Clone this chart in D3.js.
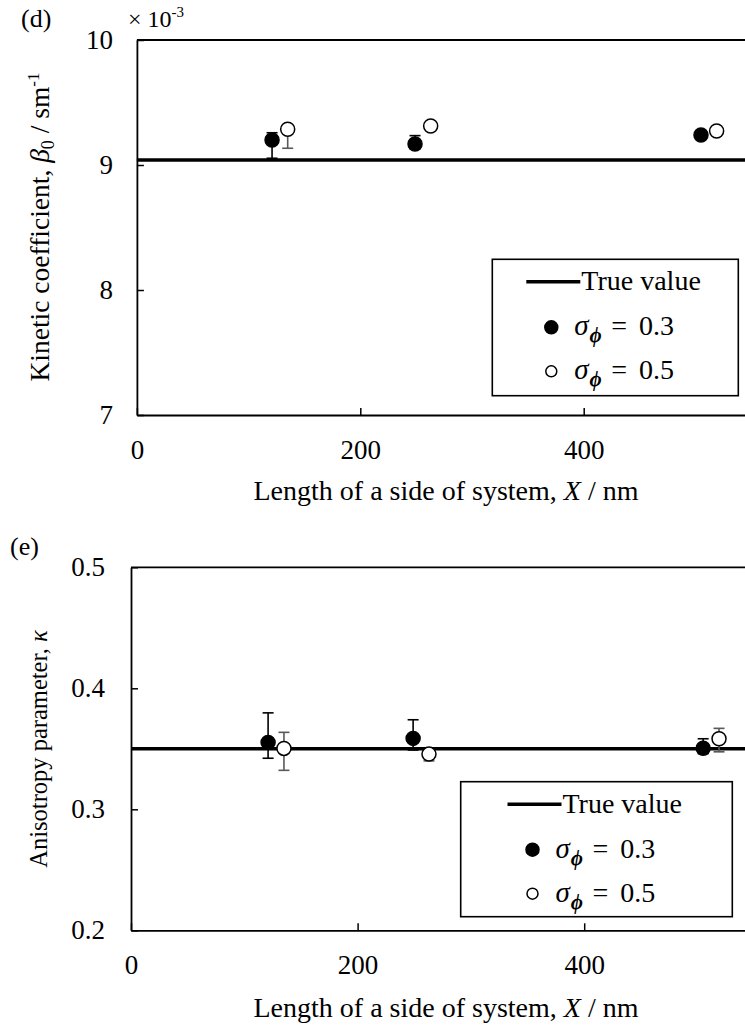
<!DOCTYPE html>
<html>
<head>
<meta charset="utf-8">
<script src="https://cdn.jsdelivr.net/npm/d3@7"></script>
<style>
  html, body { margin: 0; padding: 0; background: #fff; }
  svg { display: block; overflow: hidden; }
  svg text { font-family: "Liberation Serif", Tinos, "Times New Roman", "Noto Serif", serif !important; fill: #000; }
</style>
</head>
<body>
<svg id="chart" width="745" height="1029"></svg>
<script>
// System sizes (nm); the two smoothing widths are plotted slightly apart
const sideFilled = [121, 249, 505];
const sideOpen = [135, 263, 519];
const xTicks = [0, 200, 400];

// (d) kinetic coefficient beta0, in units of 1e-3 s/m
const betaTrue = 9.04;
const betaFilled = [9.20, 9.168, 9.24];
const betaFilledLow = [9.054, 9.13, 9.22];
const betaFilledHigh = [9.258, 9.235, 9.262];
const betaOpen = [9.286, 9.312, 9.272];
const betaOpenLow = [9.134, 9.28, 9.25];
const betaOpenHigh = [9.32, 9.34, 9.29];
const betaTicks = [7, 8, 9, 10];

// (e) anisotropy parameter kappa
const kappaTrue = 0.35;
const kappaFilled = [0.3553, 0.3586, 0.3504];
const kappaFilledLow = [0.3422, 0.349, 0.346];
const kappaFilledHigh = [0.3797, 0.374, 0.3583];
const kappaOpen = [0.3503, 0.3456, 0.3583];
const kappaOpenLow = [0.3322, 0.340, 0.3475];
const kappaOpenHigh = [0.3636, 0.349, 0.3669];
const kappaTicks = [0.2, 0.3, 0.4, 0.5];

const legendLabels = ["True value", "0.3", "0.5"];

const SERIF = '"Liberation Serif", Tinos, "Times New Roman", "Noto Serif", serif';
const svg = d3.select("#chart").attr("font-family", SERIF);
const FONT = 27;

function panel(o) {
  const g = svg.append("g");
  const x = d3.scaleLinear().domain([0, 600]).range([o.left, o.left + o.pxPer200 * 3]);
  const y = d3.scaleLinear().domain(o.yDomain).range([o.bottom, o.top]);

  // frame top edge
  g.append("line")
    .attr("x1", o.left).attr("x2", 800)
    .attr("y1", y(o.yDomain[1])).attr("y2", y(o.yDomain[1]))
    .attr("stroke", "#000").attr("stroke-width", 1.8);

  const xAxis = g.append("g")
    .attr("transform", `translate(0,${o.bottom})`)
    .call(d3.axisBottom(x).tickValues(xTicks).tickSizeInner(-7).tickSizeOuter(0).tickPadding(25).tickFormat(d3.format("d")));
  const yAxis = g.append("g")
    .attr("transform", `translate(${o.left},0)`)
    .call(d3.axisLeft(y).tickValues(o.yTicks).tickSizeInner(-7).tickSizeOuter(0).tickPadding(o.yPad).tickFormat(o.yFormat));
  [xAxis, yAxis].forEach(a => {
    a.attr("font-family", SERIF).attr("font-size", FONT);
    a.select(".domain").attr("stroke", "#000").attr("stroke-width", 1.8);
    a.selectAll(".tick line").attr("stroke", "#000").attr("stroke-width", 1.5);
    a.selectAll(".tick text").attr("fill", "#000");
  });

  // true value line
  g.append("line")
    .attr("x1", o.left).attr("x2", 800)
    .attr("y1", y(o.trueVal)).attr("y2", y(o.trueVal))
    .attr("stroke", "#000").attr("stroke-width", 3.6);

  const series = [
    { xs: sideFilled, v: o.filled, lo: o.filledLow, hi: o.filledHigh, fill: "#000", bar: "#000" },
    { xs: sideOpen, v: o.open, lo: o.openLow, hi: o.openHigh, fill: "#fff", bar: "#595959" }
  ];
  series.forEach(s => {
    const eg = g.append("g").attr("stroke", s.bar).attr("stroke-width", 1.6);
    s.v.forEach((v, i) => {
      const cx = x(s.xs[i]);
      eg.append("line").attr("x1", cx).attr("x2", cx).attr("y1", y(s.lo[i])).attr("y2", y(s.hi[i]));
      [s.lo[i], s.hi[i]].forEach(e => {
        eg.append("line").attr("x1", cx - 5.5).attr("x2", cx + 5.5).attr("y1", y(e)).attr("y2", y(e));
      });
    });
  });
  series.forEach(s => {
    g.append("g").selectAll("circle").data(s.v).join("circle")
      .attr("cx", (d, i) => x(s.xs[i])).attr("cy", d => y(d))
      .attr("r", 7).attr("fill", s.fill).attr("stroke", "#000").attr("stroke-width", 1.5);
  });

  // legend
  const L = o.legend;
  g.append("rect").attr("x", L.x).attr("y", L.y).attr("width", L.w).attr("height", L.h)
    .attr("fill", "#fff").attr("stroke", "#000").attr("stroke-width", 1.6);
  const cx0 = L.x + L.w / 2;
  const lx = cx0 - 89;
  g.append("line").attr("x1", lx).attr("x2", lx + 54)
    .attr("y1", L.y + 22.5).attr("y2", L.y + 22.5).attr("stroke", "#000").attr("stroke-width", 3.6);
  g.append("text").attr("x", lx + 55).attr("y", L.y + 31).attr("font-size", 28).text(legendLabels[0]);

  [[legendLabels[1], "#000", 6.5, 68], [legendLabels[2], "#fff", 5.5, 112]].forEach(([lab, fill, r, dy]) => {
    const yy = L.y + dy;
    g.append("circle").attr("cx", lx + 25).attr("cy", yy).attr("r", r)
      .attr("fill", fill).attr("stroke", "#000").attr("stroke-width", 1.5);
    const t = g.append("text").attr("x", lx + 48).attr("y", yy + 8);
    t.append("tspan").attr("font-size", 29).attr("font-style", "italic").text("σ");
    t.append("tspan").attr("font-size", 21).attr("font-style", "italic").attr("font-weight", "bold")
      .attr("dy", 7).attr("dx", 1).text("ϕ");
    t.append("tspan").attr("font-size", 28).attr("x", lx + 85).attr("dy", -7).text("=");
    t.append("tspan").attr("font-size", 28).attr("dx", 12).text(lab);
  });
  return { x, y };
}

// (d) panel
panel({
  left: 136.9, top: 40, bottom: 415, pxPer200: 223.4,
  yDomain: [7, 10], yTicks: betaTicks, yPad: 24, yFormat: d3.format("d"),
  trueVal: betaTrue,
  filled: betaFilled, filledLow: betaFilledLow, filledHigh: betaFilledHigh,
  open: betaOpen, openLow: betaOpenLow, openHigh: betaOpenHigh,
  legend: { x: 492.3, y: 259.3, w: 246, h: 136.4 }
});

// (e) panel
panel({
  left: 131, top: 567.3, bottom: 930.3, pxPer200: 226.6,
  yDomain: [0.2, 0.5], yTicks: kappaTicks, yPad: 26, yFormat: d3.format(".1f"),
  trueVal: kappaTrue,
  filled: kappaFilled, filledLow: kappaFilledLow, filledHigh: kappaFilledHigh,
  open: kappaOpen, openLow: kappaOpenLow, openHigh: kappaOpenHigh,
  legend: { x: 460.7, y: 781.7, w: 271.6, h: 135 }
});

// panel tags
svg.append("text").attr("x", 21).attr("y", 27).attr("font-size", 26).text("(d)");
svg.append("text").attr("x", 10).attr("y", 555).attr("font-size", 26).text("(e)");

// multiplier for the beta axis
const mult = svg.append("text").attr("x", 128).attr("y", 27).attr("font-size", 24);
mult.append("tspan").text("× 10");
mult.append("tspan").attr("font-size", 15).attr("dy", -10).text("-3");

// x titles
[500, 1017].forEach(base => {
  const t = svg.append("text").attr("x", 446).attr("y", base).attr("text-anchor", "middle").attr("font-size", 28);
  t.append("tspan").text("Length of a side of system, ");
  t.append("tspan").attr("font-style", "italic").text("X");
  t.append("tspan").text(" / nm");
});

// y titles
const yt1 = svg.append("text").attr("transform", "translate(49,227) rotate(-90)")
  .attr("text-anchor", "middle").attr("font-size", 27.5);
yt1.append("tspan").text("Kinetic coefficient, ");
yt1.append("tspan").attr("font-style", "italic").text("β");
yt1.append("tspan").attr("font-size", 18).attr("dy", 5).text("0");
yt1.append("tspan").attr("dy", -5).text(" / sm");
yt1.append("tspan").attr("font-size", 17).attr("dy", -10).text("-1");

const yt2 = svg.append("text").attr("transform", "translate(47,749) rotate(-90)")
  .attr("text-anchor", "middle").attr("font-size", 24.5);
yt2.append("tspan").text("Anisotropy parameter, ");
yt2.append("tspan").attr("font-style", "italic").text("κ");
</script>
</body>
</html>
